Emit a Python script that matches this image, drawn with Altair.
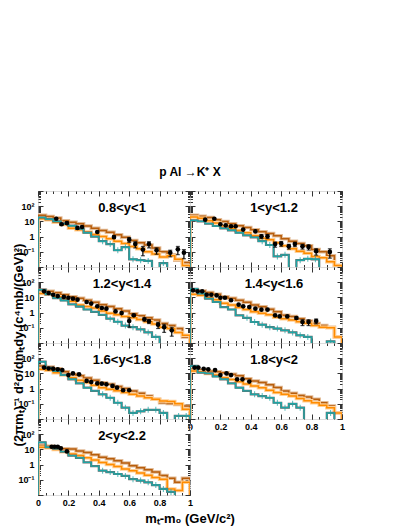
import altair as alt
import pandas as pd

# ---------------- data ----------------
LABELS = ["0.8<y<1", "1<y<1.2", "1.2<y<1.4", "1.4<y<1.6", "1.6<y<1.8", "1.8<y<2", "2<y<2.2"]
BIN_LO = [0.0, 0.05, 0.1, 0.15, 0.2, 0.25, 0.3, 0.35, 0.4, 0.45,
          0.5, 0.55, 0.6, 0.65, 0.7, 0.75, 0.8, 0.85, 0.9, 0.95]

BROWN = [
    [25, 21, 17, 11, 8.9, 7.1, 5.0, 3.5, 2.5, 1.9, 1.3, 0.89, 0.56, 0.40, 0.28, 0.18, 0.10, 0.063, 0.028, 0.020],
    [25, 22, 18, 13, 10, 7.1, 5.2, 4.0, 2.8, 2.1, 1.6, 1.12, 0.72, 0.5, 0.35, 0.25, 0.14, 0.1, 0.056, 0.0126],
    [29, 25, 20, 15, 11.2, 8.9, 6.6, 4.8, 3.3, 2.5, 1.8, 1.26, 0.85, 0.63, 0.45, 0.32, 0.19, 0.14, 0.089, 0.025],
    [29, 26, 21, 16, 11.2, 8.9, 6.6, 4.8, 3.2, 2.4, 1.66, 1.12, 0.66, 0.56, 0.4, 0.28, 0.19, 0.14, 0.11, 0.025],
    [31, 26, 20, 12.6, 8.7, 7.1, 5.0, 3.5, 2.45, 1.9, 1.4, 1.0, 0.69, 0.5, 0.32, 0.2, 0.117, 0.105, 0.091, 0.072],
    [18.6, 16.6, 14, 12.6, 11.2, 8.9, 7.1, 4.5, 3.2, 2.5, 1.8, 1.2, 0.69, 0.5, 0.35, 0.28, 0.2, 0.117, 0.072, 0.026],
    [17.8, 16, 13, 11.2, 10.7, 7.9, 6.3, 4.5, 3.0, 2.4, 1.8, 1.26, 0.85, 0.63, 0.45, 0.32, 0.19, 0.126, 0.068, 0.126],
]
ORANGE = [
    [15, 12.6, 8.9, 6.3, 3.5, 2.8, 2.0, 1.4, 1.0, 0.71, 0.5, 0.35, 0.22, 0.16, 0.1, 0.071, 0.045, 0.056, 0.032, 0.0126],
    [19.5, 16, 11, 7.9, 5.0, 3.5, 2.5, 1.8, 1.12, 0.79, 0.63, 0.4, 0.25, 0.16, 0.11, 0.079, 0.05, 0.04, 0.022, 0.0126],
    [18, 16, 11.2, 7.9, 5.6, 3.2, 2.5, 2.0, 1.26, 0.89, 0.71, 0.56, 0.45, 0.35, 0.25, 0.18, 0.11, 0.089, 0.05, 0.032],
    [16, 14, 10, 7.1, 4.2, 3.2, 2.2, 1.6, 1.12, 0.89, 0.71, 0.5, 0.4, 0.32, 0.25, 0.2, 0.14, 0.11, 0.1, 0.025],
    [18.6, 16, 11.2, 7.9, 5.2, 3.5, 2.5, 1.66, 1.15, 0.89, 0.71, 0.56, 0.42, 0.32, 0.25, 0.2, 0.15, 0.14, 0.1, 0.044],
    [14.5, 12.6, 10, 7.9, 5.2, 4.0, 2.8, 2.0, 1.48, 1.12, 0.79, 0.56, 0.42, 0.32, 0.22, 0.16, 0.117, 0.079, 0.056, 0.025],
    [13.8, 12.6, 10, 7.1, 5.0, 4.0, 2.8, 2.0, 1.4, 1.0, 0.76, 0.52, 0.4, 0.28, 0.2, 0.14, 0.11, 0.025, 0.02, 0.068],
]
TEAL = [
    [18, 14, 10, 7.1, 5.2, 3.2, 1.8, 1.0, 0.5, 0.32, 0.126, 0.2, 0.032, 0.028, 0.025, 0.004, 0.018, 0.004, 0.004, 0.004],
    [11.7, 10, 7.1, 5.0, 3.5, 2.6, 1.8, 1.2, 0.89, 0.5, 0.28, 0.05, 0.063, 0.004, 0.028, 0.035, 0.032, 0.004, 0.004, 0.004],
    [32, 16, 8.9, 6.3, 3.5, 2.5, 1.6, 1.12, 0.71, 0.4, 0.25, 0.14, 0.11, 0.079, 0.05, 0.025, 0.004, 0.004, 0.004, 0.004],
    [37, 18, 8.3, 5.0, 2.3, 1.6, 0.66, 0.45, 0.24, 0.16, 0.11, 0.089, 0.068, 0.05, 0.032, 0.025, 0.004, 0.004, 0.0126, 0.004],
    [59, 24, 14.5, 7.9, 4.1, 2.2, 1.15, 0.71, 0.42, 0.25, 0.117, 0.056, 0.025, 0.032, 0.04, 0.04, 0.025, 0.004, 0.016, 0.016],
    [31, 11.2, 10, 6.3, 4.1, 2.2, 1.15, 0.71, 0.42, 0.32, 0.25, 0.117, 0.056, 0.1, 0.056, 0.004, 0.004, 0.004, 0.025, 0.004],
    [29, 13.8, 11.2, 7.1, 3.9, 2.8, 1.4, 0.79, 0.4, 0.32, 0.24, 0.18, 0.11, 0.089, 0.068, 0.045, 0.025, 0.016, 0.004, 0.004],
]
PX = [
    [0.12, 0.155, 0.19, 0.26, 0.29, 0.39, 0.50, 0.60, 0.64, 0.69, 0.73, 0.78, 0.87, 0.92, 0.96],
    [0.10, 0.16, 0.20, 0.235, 0.27, 0.30, 0.35, 0.43, 0.47, 0.51, 0.56, 0.60, 0.65, 0.69, 0.74, 0.78, 0.83, 0.92],
    [0.04, 0.07, 0.10, 0.13, 0.17, 0.20, 0.23, 0.26, 0.32, 0.35, 0.39, 0.42, 0.45, 0.51, 0.55, 0.60, 0.63, 0.70, 0.73, 0.79, 0.83, 0.88],
    [0.02, 0.05, 0.08, 0.11, 0.14, 0.175, 0.20, 0.23, 0.27, 0.32, 0.35, 0.39, 0.43, 0.47, 0.51, 0.56, 0.59, 0.64, 0.70, 0.74, 0.78, 0.83],
    [0.04, 0.07, 0.10, 0.13, 0.16, 0.20, 0.23, 0.27, 0.32, 0.35, 0.39, 0.42, 0.45, 0.49, 0.52, 0.56, 0.60],
    [0.03, 0.055, 0.09, 0.12, 0.165, 0.20, 0.24, 0.27, 0.31, 0.345, 0.39],
    [0.09, 0.11, 0.13, 0.15, 0.19],
]
PV = [
    [15, 6.5, 7.8, 3.7, 4.3, 2.0, 0.93, 0.63, 0.32, 0.14, 0.32, 0.126, 0.087, 0.145, 0.087],
    [12.9, 15, 6.5, 5.5, 4.8, 4.8, 2.9, 2.2, 1.05, 1.05, 0.32, 0.35, 0.23, 0.32, 0.23, 0.21, 0.11, 0.098],
    [25, 19.5, 15, 12.3, 10.7, 9.5, 8.3, 7.1, 5.0, 3.9, 2.6, 2.0, 1.8, 1.2, 0.93, 0.28, 0.66, 0.36, 0.27, 0.16, 0.11, 0.068],
    [29, 25, 25, 15, 15, 13.5, 9.5, 9.5, 6.5, 3.3, 2.6, 2.3, 1.8, 1.55, 1.55, 0.66, 0.56, 0.56, 0.44, 0.24, 0.24, 0.28],
    [24, 21, 20, 18.6, 16.6, 7.8, 10, 8.7, 3.2, 2.7, 2.2, 2.1, 1.9, 1.5, 1.15, 0.78, 0.78],
    [24, 24, 20, 18.6, 16.6, 7.8, 10, 7.8, 4.1, 4.1, 2.9],
    [15, 15, 15, 11.7, 7.4],
]
PE = [
    [1.5, 1.0, 1.2, 0.45, 0.5, 0.24, 0.19, 0.22, 0.14, 0.085, 0.14, 0.057, 0.04, 0.08, 0.052],
    [0.6, 0.8, 0.4, 0.35, 0.3, 0.3, 0.3, 0.3, 0.3, 0.3, 0.12, 0.12, 0.08, 0.1, 0.08, 0.08, 0.05, 0.06],
    [1, 0.8, 0.6, 0.5, 0.4, 0.4, 0.35, 0.3, 0.25, 0.2, 0.15, 0.12, 0.1, 0.1, 0.1, 0.17, 0.1, 0.08, 0.08, 0.07, 0.06, 0.04],
    [1, 1, 1, 0.6, 0.6, 0.5, 0.4, 0.4, 0.3, 0.2, 0.15, 0.12, 0.1, 0.08, 0.08, 0.08, 0.08, 0.08, 0.08, 0.1, 0.1, 0.1],
    [1, 1, 1, 1, 1, 0.5, 0.6, 0.5, 0.2, 0.15, 0.12, 0.1, 0.1, 0.08, 0.08, 0.06, 0.06],
    [1, 1, 1, 1, 0.8, 0.5, 0.5, 0.4, 0.25, 0.25, 0.2],
    [1, 1, 1, 0.8, 0.5],
]

TITLE = "p Al \u2192K\u207a X"
YTITLE = "(2\u03c0m\u209c)\u207b\u00b9 d\u00b2\u03c3/dm\u209cdy (c\u2074mb/(GeV)\u00b2)"
XTITLE = "m\u209c-m\u2080 (GeV/c\u00b2)"

# ---------------- styling ----------------
W, H = 152, 76
FONT = "Liberation Sans"
FLOOR = 1e-4
BIN_W = 0.05
XS = alt.Scale(domain=[0, 1], nice=False, zero=False)
YS = alt.Scale(type="log", domain=[0.01, 1000], nice=False)
YMAJ = [0.01, 0.1, 1, 10, 100, 1000]
YMIN = [m * 10 ** e for e in range(-2, 3) for m in range(2, 10)]
XMAJ = [0, 0.2, 0.4, 0.6, 0.8, 1]
XMIN = [round(i * 0.05, 2) for i in range(21)]

C_BROWN, C_BROWN_BAND = "#b85e0c", "#e2bb96"
C_ORANGE, C_ORANGE_BAND = "#ff8c00", "#ffcf96"
C_TEAL, C_DARK = "#1fa5a5", "#6a6a6a"


def tick_axis(orient, offset, values, size):
    return alt.Axis(orient=orient, offset=offset, values=values, labels=False, ticks=True,
                    tickSize=size, tickColor="#333", tickWidth=1, grid=False, title=None, domain=False)


Y_LABEL_AXIS = alt.Axis(
    orient="left", values=[0.1, 1, 10, 100], ticks=False, domain=False, grid=False, title=None,
    labelExpr="datum.value < 0.5 ? '10\u207b\u00b9' : (datum.value < 5 ? '1' : (datum.value < 50 ? '10' : '10\u00b2'))",
    labelFont=FONT, labelFontSize=9, labelFontWeight="bold", labelColor="#000", labelPadding=4,
    labelOverlap=False)
X_LABEL_AXIS = alt.Axis(
    orient="bottom", values=XMAJ, ticks=False, domain=False, grid=False, title=None,
    labelExpr="datum.value == 0 ? '0' : (datum.value > 0.99 ? '1' : format(datum.value, '.1f'))",
    labelFont=FONT, labelFontSize=9, labelFontWeight="bold", labelColor="#000", labelPadding=3,
    labelFlush=False, labelOverlap=False)


def hist_df(vals):
    rows = [(0.0, FLOOR, 0)]
    for i, v in enumerate(vals):
        rows.append((BIN_LO[i], v, i + 1))
    rows.append((1.0, vals[-1], len(vals) + 1))
    rows.append((1.0, FLOOR, len(vals) + 2))
    return pd.DataFrame(rows, columns=["x", "v", "o"])


def step(vals, color, width, xaxis, yaxis, opacity=1.0):
    return alt.Chart(hist_df(vals)).mark_line(
        interpolate="step-after", color=color, strokeWidth=width, clip=True, opacity=opacity
    ).encode(x=alt.X("x:Q", scale=XS, axis=xaxis), y=alt.Y("v:Q", scale=YS, axis=yaxis),
             order=alt.Order("o:Q"))


def panel(k, ylab, xlab, extra=None):
    teal_c = pd.DataFrame({"x": [b + BIN_W / 2 for b in BIN_LO], "v": TEAL[k]})
    pts = pd.DataFrame({"x": PX[k], "v": PV[k], "e": PE[k]})
    pts["lo"] = (pts["v"] - pts["e"]).clip(lower=FLOOR)
    pts["hi"] = pts["v"] + pts["e"]
    pts["rel"] = pts["e"] / pts["v"]

    layers = [
        step(BROWN[k], C_BROWN_BAND, 3.5, X_LABEL_AXIS if xlab else None, Y_LABEL_AXIS if ylab else None),
        step(BROWN[k], C_BROWN, 1.5, tick_axis("top", -H, XMAJ, 5), tick_axis("right", -W, YMAJ, 5)),
        step(ORANGE[k], C_ORANGE_BAND, 3.5, tick_axis("top", -H, XMIN, 2.5), tick_axis("right", -W, YMIN, 2.5)),
        step(ORANGE[k], C_ORANGE, 1.5, tick_axis("bottom", -H, XMAJ, 5), tick_axis("left", -W, YMAJ, 5)),
        step(TEAL[k], C_DARK, 2.2, tick_axis("bottom", -H, XMIN, 2.5), tick_axis("left", -W, YMIN, 2.5)),
        step(TEAL[k], C_TEAL, 1.4, None, None),
        alt.Chart(teal_c).transform_filter("datum.v < 0.6").mark_tick(
            orient="vertical", size=6, thickness=1.1, color=C_TEAL, clip=True
        ).encode(x=alt.X("x:Q", scale=XS, axis=None), y=alt.Y("v:Q", scale=YS, axis=None)),
        alt.Chart(pts).mark_rule(color="#000", strokeWidth=1.2, clip=True).encode(
            x=alt.X("x:Q", scale=XS, axis=None), y=alt.Y("lo:Q", scale=YS, axis=None), y2="hi:Q"),
        alt.Chart(pts).transform_filter("datum.rel > 0.15").transform_fold(["lo", "hi"], as_=["k", "c"]).mark_tick(
            orient="horizontal", size=4, thickness=1.2, color="#000", clip=True
        ).encode(x=alt.X("x:Q", scale=XS, axis=None), y=alt.Y("c:Q", scale=YS, axis=None)),
        alt.Chart(pts).mark_circle(size=22, color="#000", opacity=1).encode(
            x=alt.X("x:Q", scale=XS, axis=None), y=alt.Y("v:Q", scale=YS, axis=None)),
        alt.Chart(pd.DataFrame({"t": [LABELS[k]]})).mark_text(
            font=FONT, fontSize=13, fontWeight="bold", color="#000", align="center", baseline="middle"
        ).encode(text="t:N", x=alt.value(84), y=alt.value(17)),
    ]
    if extra:
        layers += extra
    return alt.layer(*layers).resolve_axis(x="independent", y="independent").properties(width=W, height=H)


def text_layer(txt, x, y, size, angle=None):
    kw = dict(font=FONT, fontSize=size, fontWeight="bold", color="#000", align="center", baseline="middle")
    if angle is not None:
        kw["angle"] = angle
    return alt.Chart(pd.DataFrame({"t": [txt]})).mark_text(**kw).encode(
        text="t:N", x=alt.value(x), y=alt.value(y))


panels = [
    panel(0, True, False, [text_layer(TITLE, 152, -19, 12)]),
    panel(1, False, False),
    panel(2, True, False, [text_layer(YTITLE, -19, 78, 13, 270)]),
    panel(3, False, False),
    panel(4, True, False),
    panel(5, False, True),
    panel(6, True, True, [text_layer(XTITLE, 152, 100, 13)]),
]

chart = alt.concat(*panels, columns=2, spacing=0, bounds="flush").properties(
    padding={"left": 4, "top": 157, "right": 5, "bottom": 5}
).configure_view(stroke="#000", strokeWidth=1).configure(background="#ffffff")

chart.save("out.html", embed_options={"renderer": "svg", "actions": False})
